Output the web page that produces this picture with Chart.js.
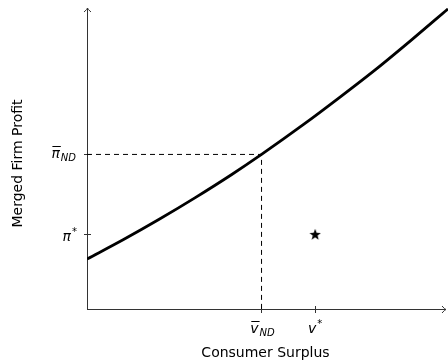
<!DOCTYPE html>
<html>
<head>
<meta charset="utf-8">
<script src="https://cdn.jsdelivr.net/npm/chart.js@4"></script>
<style>
  body { margin: 0; background: #fff; }
  #wrap { width: 448px; height: 362px; }
</style>
</head>
<body>
<div id="wrap"><canvas id="profitChart"></canvas></div>
<script>
// Data (arbitrary units, axes have no numbers)
const curveX = [0, 10, 20, 30, 40, 48.35, 60, 70, 80, 90, 100];
const curveY = [16.6, 23.0, 29.8, 37.0, 44.6, 51.35, 61.3, 70.3, 79.6, 89.5, 99.7];

const vND = 48.35;    // v-bar ND
const piND = 51.35;   // pi-bar ND
const vStar = 63.2;   // v*
const piStar = 24.9;  // pi*

const xTicks = [vND, vStar];
const yTicks = [piND, piStar];

const FONT = '"DejaVu Sans", sans-serif';

// filled five-point star used as point style
function makeStar(size) {
    const c = document.createElement('canvas');
    c.width = size; c.height = size;
    const g = c.getContext('2d');
    const cx = size / 2, cy = size / 2 + 0.8;
    const R = size / 2, r = R * 0.42;
    g.beginPath();
    for (let i = 0; i < 10; i++) {
        const rad = i % 2 === 0 ? R : r;
        const a = -Math.PI / 2 + i * Math.PI / 5;
        g.lineTo(cx + rad * Math.cos(a), cy + rad * Math.sin(a));
    }
    g.closePath();
    g.fillStyle = '#000';
    g.fill();
    return c;
}

// main glyph with optional bar, subscript and superscript
function mathLabel(ctx, main, sub, sup, bar, x, y, align) {
    ctx.save();
    ctx.fillStyle = '#000';
    ctx.textBaseline = 'alphabetic';
    ctx.textAlign = 'left';
    ctx.font = 'italic 14px ' + FONT;
    const wMain = ctx.measureText(main).width;
    ctx.font = 'italic 10px ' + FONT;
    const wSub = sub ? ctx.measureText(sub).width : 0;
    const wSup = sup ? ctx.measureText(sup).width : 0;
    const total = wMain + Math.max(wSub, wSup) + 1;
    let x0 = x;
    if (align === 'right') x0 = x - total;
    if (align === 'center') x0 = x - total / 2;
    ctx.font = 'italic 14px ' + FONT;
    ctx.fillText(main, x0, y);
    if (bar) {
        ctx.strokeStyle = '#000';
        ctx.lineWidth = 1;
        ctx.beginPath();
        ctx.moveTo(x0 + 1, Math.round(y - 12) + 0.5);
        ctx.lineTo(x0 + wMain + 1, Math.round(y - 12) + 0.5);
        ctx.stroke();
    }
    ctx.font = 'italic 10px ' + FONT;
    if (sub) ctx.fillText(sub, x0 + wMain + 1, y + 3);
    if (sup) ctx.fillText(sup, x0 + wMain + 1, y - 6);
    ctx.restore();
}

const axesPlugin = {
    id: 'axesPlugin',
    beforeDatasetsDraw(chart) {
        const ctx = chart.ctx;
        const xs = chart.scales.x, ys = chart.scales.y;
        const x0 = xs.getPixelForValue(0), y0 = ys.getPixelForValue(0);
        const x1 = xs.right - 2, y1 = ys.top;
        ctx.save();
        ctx.strokeStyle = '#333';
        ctx.lineWidth = 1;
        ctx.beginPath();
        ctx.moveTo(x0 + 0.5, y0);
        ctx.lineTo(x0 + 0.5, y1);
        ctx.moveTo(x0, y0 + 0.5);
        ctx.lineTo(x1, y0 + 0.5);
        // arrow heads
        ctx.moveTo(x0 - 3, y1 + 4);
        ctx.quadraticCurveTo(x0 + 0.5, y1 + 1, x0 + 0.5, y1);
        ctx.quadraticCurveTo(x0 + 0.5, y1 + 1, x0 + 4, y1 + 4);
        ctx.moveTo(x1 - 4, y0 - 3);
        ctx.quadraticCurveTo(x1 - 1, y0 + 0.5, x1, y0 + 0.5);
        ctx.quadraticCurveTo(x1 - 1, y0 + 0.5, x1 - 4, y0 + 4);
        // tick marks
        xTicks.forEach(v => {
            const p = Math.floor(xs.getPixelForValue(v)) + 0.5;
            ctx.moveTo(p, y0 - 3);
            ctx.lineTo(p, y0 + 4);
        });
        yTicks.forEach(v => {
            const p = Math.floor(ys.getPixelForValue(v)) + 0.5;
            ctx.moveTo(x0 - 3, p);
            ctx.lineTo(x0 + 4, p);
        });
        ctx.stroke();
        ctx.restore();
    },
    afterDraw(chart) {
        const ctx = chart.ctx;
        const xs = chart.scales.x, ys = chart.scales.y;
        const y0 = ys.getPixelForValue(0);
        mathLabel(ctx, 'π', 'ND', null, true, 76, ys.getPixelForValue(piND) + 4, 'right');
        mathLabel(ctx, 'π', null, '*', false, 77, ys.getPixelForValue(piStar) + 7, 'right');
        mathLabel(ctx, 'v', 'ND', null, true, xs.getPixelForValue(vND) + 1, y0 + 24, 'center');
        mathLabel(ctx, 'v', null, '*', false, xs.getPixelForValue(vStar), y0 + 24, 'center');

        ctx.save();
        ctx.fillStyle = '#000';
        ctx.font = '14px ' + FONT;
        ctx.textAlign = 'center';
        ctx.textBaseline = 'alphabetic';
        ctx.fillText('Consumer Surplus', (xs.left + xs.right) / 2 - 2, 357);
        ctx.translate(22, (ys.top + ys.bottom) / 2 + 5);
        ctx.rotate(-Math.PI / 2);
        ctx.fillText('Merged Firm Profit', 0, 0);
        ctx.restore();
    }
};

const chart = new Chart(document.getElementById('profitChart').getContext('2d'), {
    type: 'scatter',
    data: {
        datasets: [{
            label: 'Frontier',
            data: curveX.map((x, i) => ({ x: x, y: curveY[i] })),
            showLine: true,
            borderColor: '#000',
            borderWidth: 2.8,
            pointRadius: 0,
            cubicInterpolationMode: 'monotone',
            fill: false
        }, {
            label: 'Guides',
            data: [{ x: 0, y: piND }, { x: vND, y: piND }, { x: vND, y: 0 }],
            showLine: true,
            borderColor: '#000',
            borderWidth: 1,
            borderDash: [5, 4],
            pointRadius: 0,
            tension: 0
        }, {
            label: 'Merger',
            data: [{ x: vStar, y: piStar }],
            pointStyle: makeStar(12),
            pointRadius: 6
        }]
    },
    options: {
        responsive: true,
        maintainAspectRatio: false,
        animation: false,
        layout: { autoPadding: false, padding: { left: 87, right: 0, top: 8, bottom: 53 } },
        scales: {
            x: { type: 'linear', min: 0, max: 100, display: false },
            y: { type: 'linear', min: 0, max: 100, display: false }
        },
        plugins: {
            legend: { display: false },
            tooltip: { enabled: false }
        }
    },
    plugins: [axesPlugin]
});
</script>
</body>
</html>
